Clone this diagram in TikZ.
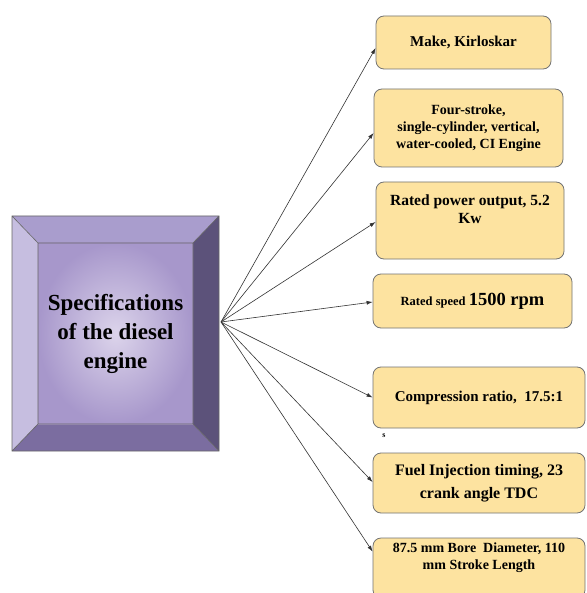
\documentclass[tikz,border=0pt]{standalone}
\usepackage{fontspec}
\setmainfont{Liberation Serif}[BoldFont={Liberation Serif Bold},ItalicFont={Liberation Serif Italic}]
\usetikzlibrary{arrows.meta}

\definecolor{specfill}{HTML}{FDE3A0}
\definecolor{bevtop}{HTML}{A99DCD}
\definecolor{bevleft}{HTML}{C6BEE0}
\definecolor{bevright}{HTML}{5C527A}
\definecolor{bevbottom}{HTML}{7B6DA0}
\definecolor{faceedge}{HTML}{A797CB}
\definecolor{facemid}{HTML}{DCD4EB}

\begin{document}
\begin{tikzpicture}[x=1pt,y=-1pt,-{Latex[length=6pt,width=4pt]}]
    \tikzstyle{spec}=[rectangle,rounded corners=8pt,draw=black!55,fill=specfill,line width=0.8pt,align=center,font=\bfseries\fontsize{14}{17}\selectfont,inner sep=2pt]
    \tikzstyle{link}=[draw=black!80,line width=0.6pt]
    \clip (0,0) rectangle (586,593);
    \fill[white] (0,0) rectangle (586,593);

    % bevelled box on the left
    \fill[bevtop] (12,216) -- (219,216) -- (193,243) -- (38,243) -- cycle;
    \fill[bevleft] (12,216) -- (38,243) -- (38,424) -- (12,451) -- cycle;
    \fill[bevright] (219,216) -- (219,451) -- (193,424) -- (193,243) -- cycle;
    \fill[bevbottom] (12,451) -- (38,424) -- (193,424) -- (219,451) -- cycle;
    \shade[inner color=facemid,outer color=faceedge] (38,243) rectangle (193,424);
    \draw[-,black!60,line width=0.6pt] (12,216) rectangle (219,451) (38,243) rectangle (193,424)
        (12,216) -- (38,243) (219,216) -- (193,243) (12,451) -- (38,424) (219,451) -- (193,424);
    \node[align=center,font=\bfseries\fontsize{23}{29}\selectfont] (engine) at (115.5,334) {Specifications\\of the diesel\\engine};
    \coordinate (hub) at (221,322);

    % the specifications
    \node[spec,minimum width=175pt,minimum height=53pt,font=\bfseries\fontsize{15}{18}\selectfont] (S-1) at (463.5,42.5) {Make, Kirloskar};
    \node[spec,minimum width=189pt,minimum height=78pt] (S-2) at (468.5,128) {Four-stroke,\\single-cylinder, vertical,\\water-cooled, CI Engine};
    \node[spec,minimum width=188pt,minimum height=77pt,font=\bfseries\fontsize{15.5}{18}\selectfont] (S-3) at (470,220.5) {Rated power output, 5.2\\Kw\\[4pt]~};
    \node[spec,minimum width=199pt,minimum height=54pt] (S-4) at (472.5,301) {\fontsize{12.5}{15}\selectfont Rated speed \fontsize{18.5}{20}\selectfont 1500 rpm};
    \node[spec,minimum width=212pt,minimum height=61pt,font=\bfseries\fontsize{15}{18}\selectfont] (S-5) at (479,397.5) {Compression ratio,\ \ 17.5:1};
    \node[spec,minimum width=212pt,minimum height=60pt,font=\bfseries\fontsize{16}{23}\selectfont] (S-6) at (479,483) {Fuel Injection timing, 23\\crank angle TDC};
    \node[spec,minimum width=212pt,minimum height=60pt] (S-7) at (479,568) {87.5 mm Bore\ \ Diameter, 110\\mm Stroke Length\\[6pt]~};
    \node[font=\bfseries\fontsize{8}{9}\selectfont,inner sep=0pt] (S-5-mark) at (384,436) {s};

    \foreach \num/\dy in {1/5.5, 2/5, 3/1.5, 4/1, 5/0, 6/-1}
        \draw[link] (hub) -- ([yshift=-\dy pt]S-\num.west);
    \draw[link] (hub) -- ([yshift=-14pt]S-7.north west);
\end{tikzpicture}
\end{document}
